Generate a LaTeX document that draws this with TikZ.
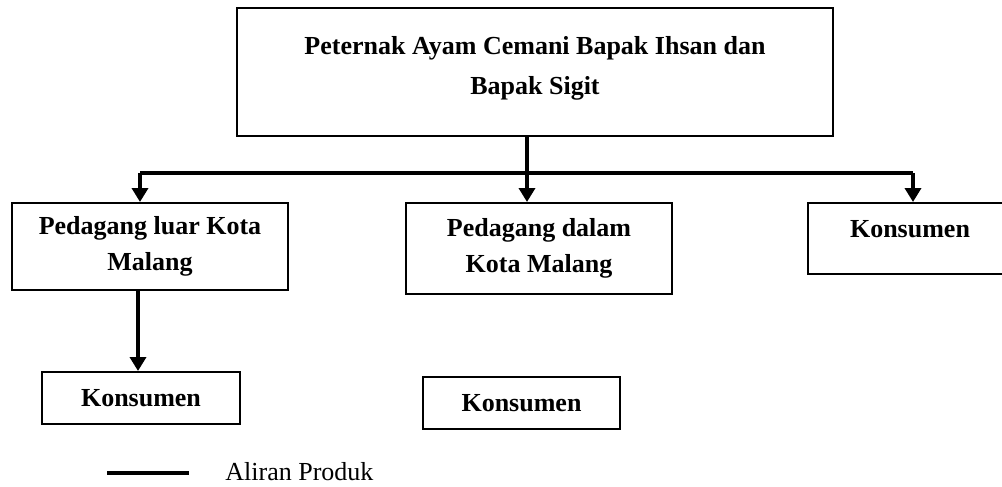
\documentclass[tikz,border=0pt]{standalone}
\usepackage{fontspec}
\setmainfont{Liberation Serif}
\usepackage{tikz}
\usetikzlibrary{arrows.meta}

\begin{document}
\begin{tikzpicture}[x=0.5pt,y=-0.5pt,
        box/.style={draw,line width=1pt,align=center,inner sep=0pt,
            font=\fontsize{13pt}{18pt}\selectfont\bfseries},
        flow/.style={line width=1.8pt},
        flowarr/.style={flow,-{Triangle[width=8pt,length=7pt]}}]
        \useasboundingbox (0,0) rectangle (1002,487);
        \node[box,minimum width=298pt,minimum height=64pt,text depth=7pt,
            font=\fontsize{13pt}{20pt}\selectfont\bfseries] (peternak) at (535,72)
            {Peternak Ayam Cemani Bapak Ihsan dan\\Bapak Sigit};
        \node[box,minimum width=138pt,minimum height=43.5pt] (luar) at (150,246.5)
            {Pedagang luar Kota\\Malang};
        \node[box,minimum width=133pt,minimum height=45.5pt] (dalam) at (539,248.5)
            {Pedagang dalam\\Kota Malang};
        \node[box,minimum width=102pt,minimum height=35.5pt,text depth=10pt] (konsumen) at (910,238.5) {Konsumen};
        \node[box,minimum width=99pt,minimum height=26pt] (konsluar) at (141,398) {Konsumen};
        \node[box,minimum width=98.5pt,minimum height=26pt] (konsdalam) at (521.5,403) {Konsumen};
        \coordinate (split) at (527,173);
        \coordinate (kiri) at (140,173);
        \coordinate (kanan) at (913,173);
        \draw[flow] (peternak.south -| split) -- (split);
        \draw[flow] (kiri) -- (kanan);
        \draw[flowarr] (kiri) -- (kiri |- luar.north);
        \draw[flowarr] (split) -- (split |- dalam.north);
        \draw[flowarr] (kanan) -- (kanan |- konsumen.north);
        \draw[flowarr] ([xshift=-6pt]luar.south) -- ([xshift=-6pt]luar.south |- konsluar.north);
        % keterangan
        \coordinate (lega) at (107,473);
        \coordinate (legb) at (189,473);
        \draw[line width=2.2pt] (lega) -- (legb);
        \node[anchor=west,inner sep=0pt,font=\fontsize{13pt}{16pt}\selectfont] (aliran) at (225,472) {Aliran Produk};
\end{tikzpicture}
\end{document}
